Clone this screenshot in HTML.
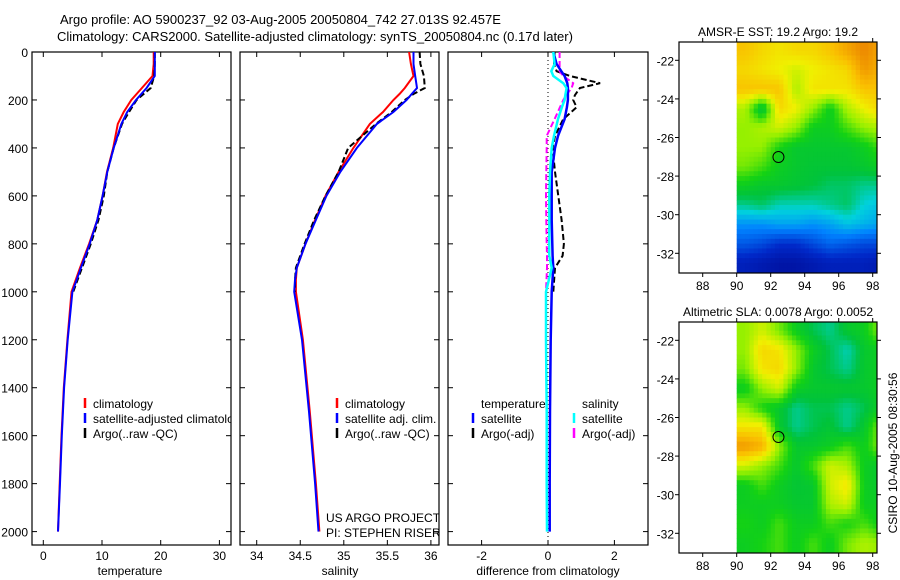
<!DOCTYPE html>
<html><head><meta charset="utf-8">
<style>
html,body{margin:0;padding:0;background:#fff;}
svg{display:block;font-family:"Liberation Sans",sans-serif;}
text{font-size:12px;fill:#000;}
</style></head>
<body>
<svg id="fig" width="900" height="580" viewBox="0 0 900 580" xmlns="http://www.w3.org/2000/svg">
<defs>
<clipPath id="c1"><rect x="32" y="52" width="199" height="493"/></clipPath>
<clipPath id="c2"><rect x="240" y="52" width="199" height="493"/></clipPath>
<clipPath id="c3"><rect x="448" y="52" width="200" height="493"/></clipPath>
</defs>
<text x="60" y="24" style="font-size:13px">Argo profile: AO 5900237_92 03-Aug-2005 20050804_742 27.013S 92.457E</text>
<text x="57" y="41" style="font-size:13px">Climatology: CARS2000. Satellite-adjusted climatology: synTS_20050804.nc (0.17d later)</text>
<g id="g"></g>
<text transform="translate(897,453) rotate(-90)" text-anchor="middle">CSIRO 10-Aug-2005 08:30:56</text>
</svg>
<script>
// ---- profile data ----
const depthT = [0,50,100,150,200,250,300,400,500,600,700,800,900,1000,1200,1400,1600,1800,2000];
const tempClim = [18.8,18.8,18.6,16.8,15.0,13.7,12.7,11.9,10.85,10.1,9.2,7.8,6.25,4.8,4.1,3.5,3.1,2.8,2.5];
const tempSat  = [19.0,19.0,19.0,17.6,15.8,14.3,13.3,12.0,10.9,10.1,9.2,7.9,6.4,4.95,4.15,3.55,3.15,2.85,2.5];
const tempArgo = [19.0,19.0,18.9,18.3,15.9,14.6,13.4,12.0,10.9,10.3,9.4,8.1,6.6,5.1];
const depthS = [0,50,100,150,175,200,250,300,400,500,600,700,800,900,950,1000,1200,1500,1800,2000];
const salClim = [35.75,35.77,35.80,35.70,35.64,35.57,35.45,35.30,35.11,34.94,34.79,34.67,34.56,34.46,34.45,34.45,34.53,34.61,34.68,34.72];
const salSat  = [35.80,35.80,35.82,35.84,35.78,35.72,35.57,35.38,35.15,34.96,34.80,34.68,34.56,34.46,34.44,34.43,34.52,34.60,34.67,34.71];
const salArgo = [35.87,35.88,35.92,35.93,35.80,35.70,35.55,35.37,35.05,34.94,34.79,34.66,34.55,34.45,34.44,34.44];
const depthD = [0,50,80,100,130,150,180,200,230,280,350,400,500,600,700,800,850,900,1000,1200,1500,1800,2000];
const diffTSat = [0.16,0.26,0.4,0.5,0.58,0.6,0.6,0.6,0.57,0.5,0.3,0.21,0.11,0.11,0.11,0.13,0.14,0.16,0.11,0.08,0.06,0.05,0.05];
const diffSSat = [0.16,0.2,0.1,0.16,0.46,0.56,0.52,0.5,0.42,0.3,0.18,0.11,0.06,0.04,0.04,0.04,0.04,0.11,-0.06,-0.06,-0.04,-0.04,-0.03];
const diffTArgo = [0.2,0.18,0.26,0.66,1.57,0.96,0.81,0.76,0.86,0.46,0.21,0.14,0.21,0.31,0.41,0.48,0.44,0.21,0.16];
const diffSArgo = [0.35,0.35,0.35,0.46,0.76,0.71,0.55,0.46,0.36,0.2,-0.04,-0.04,-0.05,-0.06,-0.05,-0.04,-0.03,-0.03,-0.06];
const depthTicks = [0,200,400,600,800,1000,1200,1400,1600,1800,2000];
const tempTicks = [0,10,20,30];
const salTicks = [34,34.5,35,35.5,36];
const diffTicks = [-2,0,2];
// ---- map data (1-degree cells, rows from -21 to -33, cols from lon 90) ----
const sstGrid = [
[0.75,0.72,0.70,0.72,0.72,0.75,0.80,0.85,0.80],
[0.72,0.70,0.68,0.65,0.68,0.70,0.72,0.82,0.78],
[0.75,0.75,0.75,0.62,0.70,0.70,0.70,0.75,0.75],
[0.62,0.45,0.72,0.68,0.60,0.50,0.62,0.68,0.72],
[0.60,0.62,0.65,0.60,0.50,0.50,0.55,0.60,0.62],
[0.60,0.60,0.52,0.48,0.48,0.48,0.48,0.50,0.55],
[0.58,0.55,0.50,0.48,0.47,0.47,0.47,0.48,0.50],
[0.50,0.48,0.48,0.47,0.46,0.44,0.44,0.42,0.42],
[0.42,0.44,0.40,0.40,0.40,0.42,0.44,0.38,0.36],
[0.30,0.30,0.32,0.32,0.30,0.32,0.36,0.34,0.32],
[0.22,0.20,0.16,0.16,0.20,0.24,0.22,0.20,0.20],
[0.12,0.10,0.08,0.08,0.10,0.12,0.12,0.12,0.10]];
const slaGrid = [
[0.60,0.65,0.58,0.50,0.45,0.42,0.48,0.50,0.60],
[0.60,0.72,0.70,0.60,0.50,0.45,0.40,0.48,0.50],
[0.58,0.70,0.72,0.60,0.48,0.45,0.42,0.48,0.50],
[0.50,0.60,0.65,0.50,0.48,0.48,0.48,0.48,0.50],
[0.60,0.52,0.48,0.42,0.45,0.45,0.42,0.45,0.50],
[0.70,0.70,0.48,0.42,0.45,0.47,0.42,0.48,0.60],
[0.82,0.78,0.60,0.48,0.48,0.50,0.55,0.50,0.60],
[0.65,0.60,0.55,0.48,0.55,0.65,0.62,0.50,0.48],
[0.50,0.55,0.50,0.47,0.48,0.65,0.70,0.50,0.48],
[0.50,0.50,0.50,0.48,0.48,0.62,0.65,0.50,0.50],
[0.52,0.50,0.55,0.50,0.50,0.55,0.52,0.55,0.50],
[0.50,0.52,0.55,0.50,0.55,0.50,0.58,0.62,0.60]];
const lonTicks = [88,90,92,94,96,98];
const latTicks = [-22,-24,-26,-28,-30,-32];
const argoLon = 92.457, argoLat = -27.013;

const NS="http://www.w3.org/2000/svg";
const G=document.getElementById('g');
function mk(tag,attrs,parent,txt){const e=document.createElementNS(NS,tag);for(const k in attrs)e.setAttribute(k,attrs[k]);if(txt!==undefined)e.textContent=txt;(parent||G).appendChild(e);return e;}
const Y0=52, PXM=0.2398;
const yD=d=>Y0+d*PXM;
const xT=v=>43.3+5.87*v;
const xS=v=>256.7+87.1*(v-34);
const xDf=v=>548+33.2*v;

function panel(name,x0,x1,clip,xf,ticks,label,labelX,leftLabels){
  const g=mk('g',{});
  
  
  mk('rect',{x:x0,y:52,width:x1-x0,height:493,fill:'none',stroke:'#000','stroke-width':1.2},g);
  depthTicks.forEach(d=>{const y=yD(d);
    mk('line',{x1:x0,x2:x0+5,y1:y,y2:y,stroke:'#000'},g);
    mk('line',{x1:x1-5,x2:x1,y1:y,y2:y,stroke:'#000'},g);
    if(leftLabels){const t=mk('text',{x:x0-4,y:y+5,'text-anchor':'end'},g,String(d));
      
      }
  });
  ticks.forEach(v=>{const x=xf(v);
    mk('line',{x1:x,x2:x,y1:545,y2:540,stroke:'#000'},g);
    mk('line',{x1:x,x2:x,y1:52,y2:57,stroke:'#000'},g);
    const t=mk('text',{x:x,y:560,'text-anchor':'middle'},g,String(v));
    
    
  });
  const lt=mk('text',{x:labelX,y:575,'text-anchor':'middle'},g,label);
  
  
  const inner=mk('g',{'clip-path':'url(#'+clip+')'},g);
  return inner;
}
function line(parent,xs,ds,xf,color,w,dash,name){
  const pts=xs.map((v,i)=>xf(v).toFixed(1)+','+yD(ds[i]).toFixed(1)).join(' ');
  const p=mk('polyline',{points:pts,fill:'none',stroke:color,'stroke-width':w},parent);
  if(dash)p.setAttribute('stroke-dasharray',dash);
  
  
}
function legend(parent,x,y,color,label,name){
  if(color)mk('line',{x1:x,x2:x,y1:y-10,y2:y,stroke:color,'stroke-width':2.5},parent);
  const t=mk('text',{x:x+8,y:y},parent,label);
  
  
}
const p1=panel('temperature-panel',32,231,'c1',xT,tempTicks,'temperature',130,true);
line(p1,tempClim,depthT,xT,'#f00',2,null,'temperature-climatology-line');
line(p1,tempArgo,depthT,xT,'#000',2,'6,3','temperature-argo-line');
line(p1,tempSat,depthT,xT,'#00f',2,null,'temperature-satellite-line');
legend(p1,85,408,'#f00','climatology','legend-climatology');
legend(p1,85,423,'#00f','satellite-adjusted climatology','legend-satellite-adjusted');
legend(p1,85,438,'#000','Argo(..raw -QC)','legend-argo');
const p2=panel('salinity-panel',240,439,'c2',xS,salTicks,'salinity',340,false);
line(p2,salClim,depthS,xS,'#f00',2,null,'salinity-climatology-line');
line(p2,salArgo,depthS,xS,'#000',2,'6,3','salinity-argo-line');
line(p2,salSat,depthS,xS,'#00f',2,null,'salinity-satellite-line');
legend(p2,337,408,'#f00','climatology','legend-climatology');
legend(p2,337,423,'#00f','satellite adj. clim.','legend-satellite-adj');
legend(p2,337,438,'#000','Argo(..raw -QC)','legend-argo');
legend(p2,318,522,null,'US ARGO PROJECT','project-text');
legend(p2,318,537,null,'PI: STEPHEN RISER','pi-text');
const p3=panel('difference-panel',448,648,'c3',xDf,diffTicks,'difference from climatology',548,false);
mk('line',{x1:548,x2:548,y1:52,y2:545,stroke:'#000','stroke-dasharray':'1,3'},p3);
line(p3,diffTArgo,depthD,xDf,'#000',2,'6,3','argo-temperature-diff-line');
line(p3,diffSArgo,depthD,xDf,'#f0f',2,'6,3','argo-salinity-diff-line');
line(p3,diffTSat,depthD,xDf,'#00f',2.5,null,'satellite-temperature-diff-line');
line(p3,diffSSat,depthD,xDf,'#0ff',2.5,null,'satellite-salinity-diff-line');
legend(p3,473,408,null,'temperature','legend-temperature-heading');
legend(p3,473,423,'#00f','satellite','legend-temp-satellite');
legend(p3,473,438,'#000','Argo(-adj)','legend-temp-argo');
legend(p3,574,408,null,'salinity','legend-salinity-heading');
legend(p3,574,423,'#0ff','satellite','legend-sal-satellite');
legend(p3,574,438,'#f0f','Argo(-adj)','legend-sal-argo');

// maps
const stops=[[0,[0,0,128]],[0.15,[0,40,200]],[0.28,[0,130,255]],[0.38,[0,210,220]],[0.46,[0,195,60]],[0.52,[20,210,20]],[0.6,[150,240,0]],[0.68,[240,240,0]],[0.76,[250,190,0]],[0.86,[235,130,0]],[1,[200,60,0]]];
function cmap(v){for(let i=1;i<stops.length;i++){if(v<=stops[i][0]){const a=stops[i-1],b=stops[i];const t=(v-a[0])/(b[0]-a[0]);return 'rgb('+a[1].map((c,k)=>Math.round(c+(b[1][k]-c)*t)).join(',')+')';}}return 'rgb(200,60,0)';}
function sample(grid,fr,fc){ // bilinear between cell centers
  const R=grid.length,C=grid[0].length;
  const r=Math.max(0,Math.min(R-1,fr-0.5)), c=Math.max(0,Math.min(C-1,fc-0.5));
  const r0=Math.floor(r),c0=Math.floor(c),r1=Math.min(R-1,r0+1),c1=Math.min(C-1,c0+1);
  const tr=r-r0,tc=c-c0;
  return (grid[r0][c0]*(1-tc)+grid[r0][c1]*tc)*(1-tr)+(grid[r1][c0]*(1-tc)+grid[r1][c1]*tc)*tr;
}
function map(name,top,title,grid){
  const g=mk('g',{});
  
  
  const L=679,R=877,B=top+231;
  const xL=lon=>702.7+17*(lon-88);
  const yL=lat=>top+18.3+19.3*(-22-lat);
  const t=mk('text',{x:778,y:top-6,'text-anchor':'middle'},g,title);
  
  
  const S=4, rows=grid.length, cols=grid[0].length;
  for(let i=0;i<rows*S;i++){for(let j=0;j<cols*S;j++){
    const lat0=-21-i/S, lat1=-21-(i+1)/S, lon0=90+j/S, lon1=90+(j+1)/S;
    const x0=xL(lon0), x1=Math.min(xL(lon1),R), y0=Math.max(yL(lat0),top), y1=Math.min(yL(lat1),B);
    if(x1<=x0||y1<=y0)continue;
    const v=sample(grid,(i+0.5)/S,(j+0.5)/S);
    const cell=mk('rect',{x:x0.toFixed(2),y:y0.toFixed(2),width:(x1-x0+0.4).toFixed(2),height:(y1-y0+0.4).toFixed(2),fill:cmap(v)},g);
    
    
  }}
  mk('rect',{x:L,y:top,width:R-L,height:B-top,fill:'none',stroke:'#000','stroke-width':1.2},g);
  lonTicks.forEach(lo=>{const x=xL(lo);
    mk('line',{x1:x,x2:x,y1:top,y2:top-4,stroke:'#000'},g);
    mk('line',{x1:x,x2:x,y1:B,y2:B+4,stroke:'#000'},g);
    const tl=mk('text',{x:x,y:B+17,'text-anchor':'middle'},g,String(lo));
    
    });
  latTicks.forEach(la=>{const y=yL(la);
    mk('line',{x1:L,x2:L-4,y1:y,y2:y,stroke:'#000'},g);
    mk('line',{x1:R,x2:R+4,y1:y,y2:y,stroke:'#000'},g);
    const tl=mk('text',{x:L-5,y:y+5,'text-anchor':'end'},g,String(la));
    
    });
  const m=mk('circle',{cx:xL(argoLon),cy:yL(argoLat),r:5.5,fill:'none',stroke:'#000','stroke-width':1},g);
  
  
}
map('sst-map',42,'AMSR-E SST: 19.2 Argo: 19.2',sstGrid);
map('sla-map',322,'Altimetric SLA: 0.0078 Argo: 0.0052',slaGrid);
</script>
</body></html>
